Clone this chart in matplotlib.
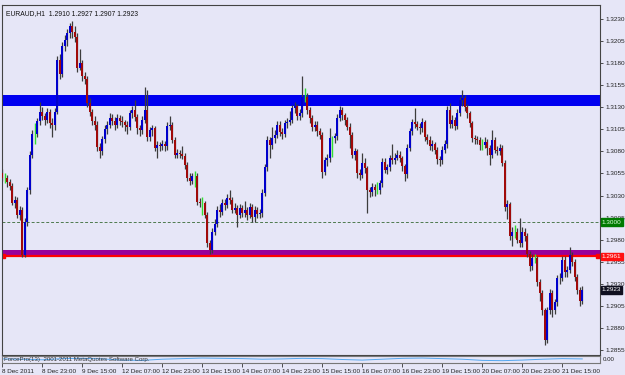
import numpy as np
import matplotlib
matplotlib.use("Agg")
import matplotlib.pyplot as plt
import matplotlib.transforms as mtransforms

plt.rcParams['font.family'] = ['Liberation Sans', 'DejaVu Sans']

symbol_title = "EURAUD,H1  1.2910 1.2927 1.2907 1.2923"
first_open = 13055  # in points (1e-4)

close = [
    13050,13050,13045,13041,13022,13025,13008,13014,12963,13000,
    13036,13076,13100,13100,13114,13125,13120,13116,13125,13112,
    13110,13125,13184,13168,13200,13206,13214,13222,13215,13210,
    13175,13180,13165,13162,13135,13125,13115,13110,13085,13080,
    13094,13105,13110,13118,13115,13110,13118,13115,13113,13110,
    13108,13123,13127,13119,13106,13104,13116,13127,13096,13104,
    13106,13084,13087,13086,13088,13086,13109,13110,13093,13076,
    13078,13077,13075,13065,13050,13046,13052,13052,13023,13021,
    13021,13008,12976,12968,12989,12998,13014,13011,13022,13019,
    13027,13025,13014,13016,13008,13016,13010,13014,13008,13017,
    13006,13014,13009,13010,13033,13062,13093,13087,13095,13099,
    13110,13102,13100,13112,13113,13116,13129,13131,13120,13123,
    13142,13142,13127,13118,13108,13110,13103,13099,13057,13070,
    13072,13095,13095,13097,13118,13127,13121,13116,13108,13099,
    13076,13080,13055,13053,13067,13061,13036,13034,13040,13036,
    13036,13044,13068,13059,13062,13072,13070,13073,13076,13072,
    13063,13054,13084,13103,13113,13111,13108,13106,13113,13096,
    13093,13086,13088,13082,13071,13070,13082,13088,13127,13111,
    13116,13109,13124,13138,13140,13130,13123,13112,13095,13094,
    13093,13087,13087,13091,13084,13076,13093,13082,13080,13084,
    13067,13017,13020,12984,12989,12989,12980,12976,12989,12984,
    12964,12950,12959,12959,12932,12920,12900,12866,12900,12920,
    12900,12909,12936,12937,12957,12943,12946,12963,12955,12938,
    12923,12910,12923,
]
high = [
    13060,13055,13053,13049,13044,13029,13028,13018,13017,13004,
    13040,13080,13104,13112,13118,13136,13130,13124,13129,13128,
    13118,13129,13188,13190,13204,13212,13219,13226,13228,13222,
    13214,13196,13184,13170,13166,13140,13128,13120,13114,13090,
    13098,13110,13115,13123,13122,13119,13122,13121,13120,13116,
    13114,13127,13132,13138,13122,13110,13120,13153,13150,13108,
    13110,13109,13092,13091,13093,13092,13113,13120,13113,13096,
    13083,13082,13086,13078,13068,13055,13056,13058,13055,13027,
    13028,13024,13011,12980,12993,13003,13018,13020,13026,13026,
    13032,13036,13028,13021,13019,13020,13019,13024,13017,13022,
    13020,13018,13017,13015,13037,13066,13097,13096,13108,13104,
    13114,13114,13106,13116,13118,13126,13133,13136,13134,13128,
    13165,13152,13146,13130,13121,13115,13114,13107,13102,13074,
    13077,13107,13098,13101,13122,13131,13130,13124,13119,13112,
    13102,13084,13083,13060,13078,13072,13064,13040,13044,13043,
    13045,13048,13072,13072,13066,13076,13088,13078,13082,13081,
    13075,13066,13088,13107,13117,13129,13115,13112,13118,13116,
    13100,13097,13093,13091,13085,13075,13086,13093,13131,13135,
    13121,13119,13128,13142,13150,13144,13134,13126,13115,13099,
    13098,13096,13094,13096,13094,13087,13104,13096,13086,13088,
    13087,13070,13025,13023,12994,12997,12993,13005,12994,12993,
    12987,12967,12964,12964,12962,12935,12923,12903,12904,12924,
    12923,12913,12940,12942,12961,12962,12950,12972,12966,12958,
    12941,12926,12927,
]
low = [
    13046,13044,13040,13036,13019,13016,13004,13002,12960,12960,
    12996,13032,13072,13088,13096,13110,13116,13110,13112,13106,
    13096,13104,13122,13162,13164,13194,13200,13208,13208,13204,
    13170,13172,13160,13156,13130,13120,13110,13104,13080,13073,
    13076,13090,13100,13106,13110,13104,13106,13110,13108,13103,
    13100,13104,13118,13115,13100,13098,13100,13112,13092,13092,
    13098,13080,13072,13080,13082,13080,13082,13104,13089,13072,
    13072,13073,13071,13060,13046,13042,13043,13040,13019,13017,
    13008,13004,12972,12964,12965,12985,12994,13006,13008,13014,
    13016,13020,13010,13010,12994,13004,13006,13006,13002,13004,
    13000,13000,13004,13004,13006,13029,13058,13072,13083,13090,
    13095,13098,13094,13096,13107,13110,13112,13124,13116,13116,
    13119,13136,13122,13112,13103,13103,13098,13094,13050,13053,
    13064,13068,13074,13090,13093,13114,13116,13110,13104,13084,
    13072,13070,13050,13048,13050,13056,13010,13028,13029,13030,
    13032,13032,13040,13055,13054,13058,13066,13066,13070,13068,
    13058,13046,13050,13080,13099,13106,13104,13100,13102,13092,
    13088,13082,13080,13077,13066,13064,13066,13078,13084,13107,
    13106,13104,13105,13120,13132,13126,13118,13108,13091,13088,
    13088,13082,13082,13084,13076,13065,13072,13078,13076,13076,
    13063,13013,13003,12980,12973,12982,12976,12972,12972,12979,
    12960,12945,12946,12954,12928,12910,12895,12861,12863,12896,
    12892,12896,12905,12930,12933,12938,12938,12942,12950,12933,
    12918,12905,12907,
]

time_labels = ["8 Dec 2011", "8 Dec 23:00", "9 Dec 15:00", "12 Dec 07:00",
               "12 Dec 23:00", "13 Dec 15:00", "14 Dec 07:00", "14 Dec 23:00",
               "15 Dec 15:00", "16 Dec 07:00", "16 Dec 23:00", "19 Dec 15:00",
               "20 Dec 07:00", "20 Dec 23:00", "21 Dec 15:00"]
label_step = 16

price_ticks = [1.3230, 1.3205, 1.3180, 1.3155, 1.3130, 1.3105, 1.3080, 1.3055,
               1.3030, 1.3005, 1.2980, 1.2955, 1.2930, 1.2905, 1.2880, 1.2855]

resist_band = (1.31314, 1.31439)
support_band = (1.29607, 1.29683)
support_line = 1.2961
round_level = 1.3000
last_price = 1.2923

indicator = [0.2, 0.1, -0.1, 0.3, 0.4, 0.2, -0.2, -0.3, 0.1, 0.3, 0.5, 0.4,
             0.3, 0.1, 0.2, 0.4, 0.3, 0.0, -0.2, 0.1, 0.4, 0.5, 0.3, 0.1,
             -0.3, -0.4, -0.2, 0.1, 0.3, 0.2]
indicator_step = 8

# ---------------------------------------------------------------
c = np.array(close) / 10000.0
h = np.array(high) / 10000.0
l = np.array(low) / 10000.0
o = np.r_[first_open / 10000.0, c[:-1]]
n = len(c)
x = np.arange(n)

FS = 4.6
BG = '#E6E6F7'
fig = plt.figure(figsize=(6.25, 3.75), dpi=100, facecolor=BG)
ax = fig.add_axes([2/625, 1-355/375, 598/625, 350/375], facecolor=BG)
ax2 = fig.add_axes([2/625, 1-363/375, 598/625, 7/375], facecolor=BG, sharex=ax)

ax.set_xlim(-0.1, 239.1)
ax.set_ylim(1.28493, 1.32459)

# bands and lines
ax.axhspan(*resist_band, color='#0000F0', zorder=1, lw=0)
ax.axhspan(*support_band, color='#990099', zorder=1, lw=0)
ax.axhline(support_line, color='#FF0000', lw=1.6, zorder=1.5)
ax.plot([0.15, 238.2], [support_line, support_line], ls='none', marker='s',
        ms=3, color='#FF0000', zorder=1.6)
ax.axhline(round_level, color='#4E7A4E', lw=0.7, ls=(0, (3, 2)), zorder=1.2)

doji = o == c
bull = c > o
bear = c < o
ax.vlines(x[~doji], l[~doji], h[~doji], color='#3C3C3C', lw=0.9, zorder=2)
ax.vlines(x[doji], l[doji], h[doji], color='#33DD33', lw=1.0, zorder=2)
ax.bar(x[bull], (c - o)[bull], bottom=o[bull], width=0.8, color='#0000CC',
       lw=0, zorder=3)
ax.bar(x[bear], (o - c)[bear], bottom=c[bear], width=0.8, color='#A00A0A',
       lw=0, zorder=3)

# y axis on the right
ax.yaxis.tick_right()
ax.set_yticks(price_ticks)
ax.set_yticklabels([f"{p:.4f}" for p in price_ticks])
ax.tick_params(axis='y', length=2.5, width=0.6, color='#333333', pad=1.2,
               labelsize=FS, labelcolor='#222222')
ax.tick_params(axis='x', length=0, labelbottom=False)
for s in ax.spines.values():
    s.set_color('#444444')
    s.set_linewidth(0.8)

trans = mtransforms.blended_transform_factory(ax.transAxes, ax.transData)
box_kw = dict(transform=trans, fontsize=FS, va='center', ha='left', zorder=5,
              clip_on=False)
ax.text(1.003, round_level, f"{round_level:.4f}", color='#DDFFDD',
        bbox=dict(boxstyle='square,pad=0.2', fc='#007A00', ec='#007A00'), **box_kw)
ax.text(1.003, support_line, f"{support_line:.4f}", color='white',
        bbox=dict(boxstyle='square,pad=0.2', fc='#FF1010', ec='#FF1010'), **box_kw)
ax.text(1.003, last_price, f"{last_price:.4f}", color='white',
        bbox=dict(boxstyle='square,pad=0.2', fc='#101020', ec='#101020'), **box_kw)

ax.text(0.006, 0.985, symbol_title, transform=ax.transAxes, fontsize=FS + 0.3,
        va='top', ha='left', color='#111111')

# indicator strip
ix = np.arange(len(indicator)) * indicator_step
ax2.plot(ix, indicator, color='#55A8F0', lw=0.7)
ax2.set_ylim(-1.2, 1.2)
ax2.set_yticks([])
for s in ax2.spines.values():
    s.set_color('#777777')
    s.set_linewidth(0.8)
ax2.text(0.004, 0.5, "ForcePro(13)  2001-2011 MetaQuotes Software Corp.",
         transform=ax2.transAxes, fontsize=4.4, va='center', ha='left',
         color='#333333')
ax2.text(1.004, 0.5, "0.00", transform=ax2.transAxes, fontsize=4.4,
         va='center', ha='left', color='#222222')

tick_pos = np.arange(len(time_labels)) * label_step
ax2.set_xticks(tick_pos)
ax2.set_xticklabels(time_labels)
ax2.tick_params(axis='x', length=3, width=0.6, color='#333333', pad=1.0,
                labelsize=FS, labelcolor='#222222')
for lab in ax2.get_xticklabels():
    lab.set_horizontalalignment('left')

fig.savefig("out.png", dpi=100, facecolor=BG)
